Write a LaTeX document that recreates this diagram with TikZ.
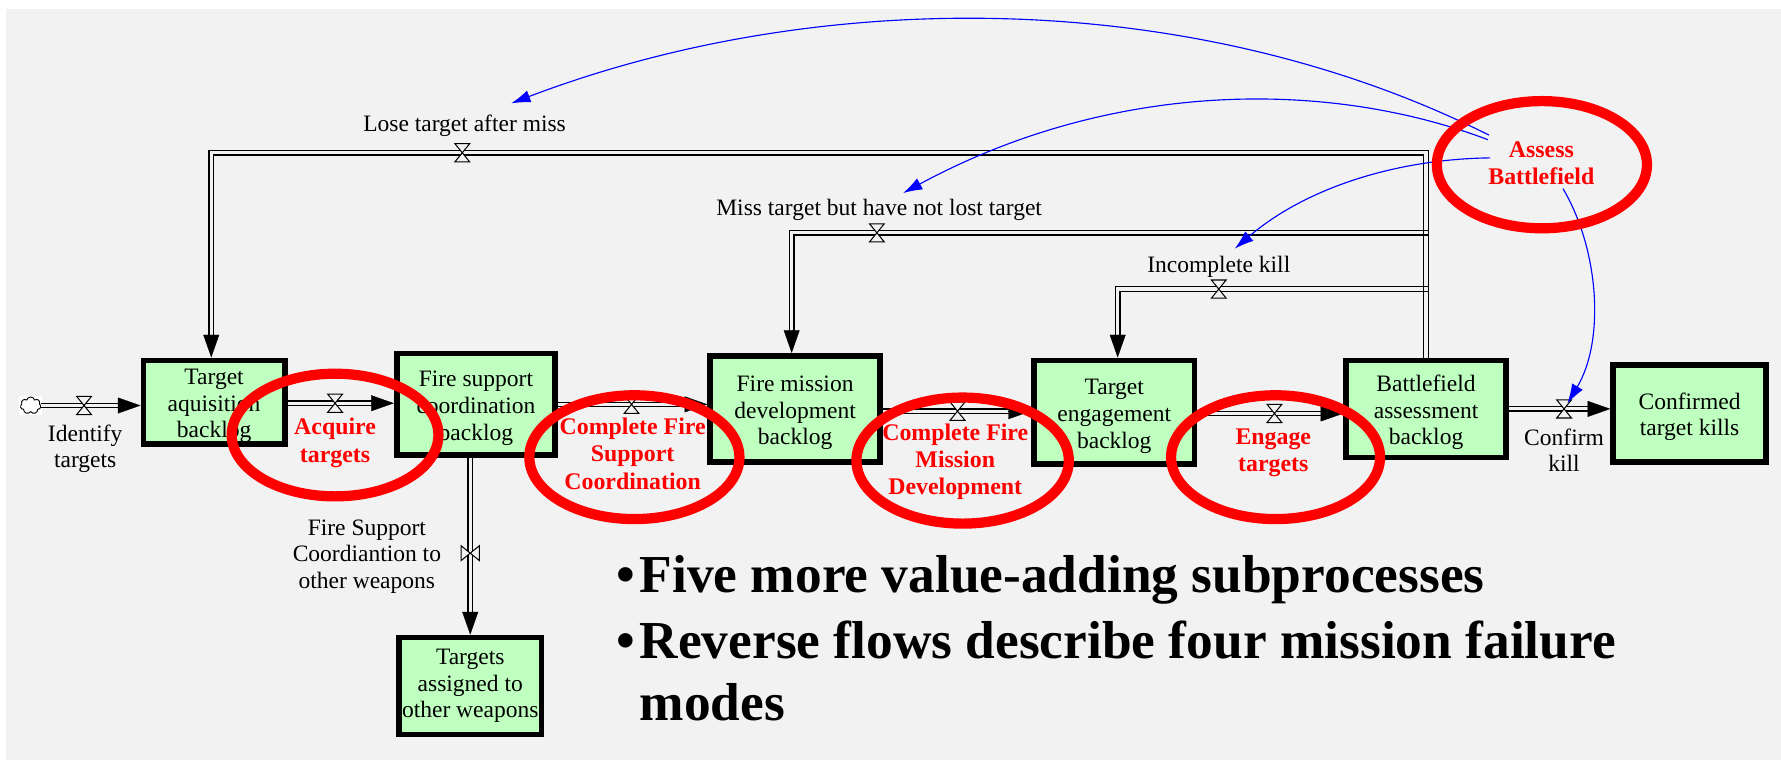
\documentclass[tikz,border=0pt]{standalone}
\usepackage{fontspec}
\setmainfont{Liberation Serif}
\usetikzlibrary{arrows.meta,calc,shapes.geometric,shapes.symbols}
\definecolor{bgc}{HTML}{F2F2F2}
\definecolor{stockc}{HTML}{BFFFBF}
\definecolor{redc}{HTML}{FF0000}
\definecolor{bluec}{HTML}{0000FF}
\newcommand\dn{\rule{0pt}{20.5pt}}
\tikzset{
 stock/.style={draw=black,fill=stockc,line width=5pt,align=center,font=\fontsize{20.7}{23.5}\selectfont,inner sep=0pt},
 lab/.style={align=center,font=\fontsize{20.7}{23.5}\selectfont,inner sep=0pt},
 act/.style={align=center,text=redc,font=\bfseries\fontsize{21}{24}\selectfont,inner sep=0pt},
 ring/.style={ellipse,draw=redc,line width=9pt,inner sep=0pt},
 pipe/.style={draw=black,line width=1.1pt,double=bgc,double distance=2.8pt},
 head/.style={draw=black,line width=.3pt,-{Triangle[length=20pt,width=14pt,fill=black]}},
 infl/.style={draw=bluec,line width=1pt,-{Latex[length=17pt,width=11pt,fill=bluec]}},
 bullet/.style={anchor=base west,inner sep=0pt,font=\bfseries\fontsize{47}{52}\selectfont},
 valvev/.pic={\draw[black,line width=.9pt,fill=bgc] (-6.5,-8)--(6.5,-8)--(-6.5,8)--(6.5,8)--cycle;},
 valveh/.pic={\draw[black,line width=.9pt,fill=bgc] (-8,-6.5)--(-8,6.5)--(8,-6.5)--(8,6.5)--cycle;},
}
\begin{document}
\begin{tikzpicture}[x=1pt,y=-1pt]
\useasboundingbox (0,0) rectangle (1568,669.1);
\fill[white] (0,0) rectangle (1568,669.1);
\fill[bgc] (5,8) rectangle (1568,669.1);
% stocks
\node[stock,minimum width=124.5pt,minimum height=73.5pt] (aq) at (188.5,354) {\dn Target\\aquisition\\backlog};
\node[stock,minimum width=139.5pt,minimum height=89.5pt] (fs) at (419,356) {\dn Fire support\\coordination\\backlog};
\node[stock,minimum width=149.5pt,minimum height=93.5pt] (fm) at (700,360) {\dn Fire mission\\development\\backlog};
\node[stock,minimum width=141.5pt,minimum height=91.5pt] (te) at (981,363) {\dn Target\\engagement\\backlog};
\node[stock,minimum width=140.5pt,minimum height=85.5pt] (ba) at (1255.5,360) {\dn Battlefield\\assessment\\backlog};
\node[stock,minimum width=134.5pt,minimum height=85.5pt] (ck) at (1487.5,364) {\dn Confirmed\\target kills};
\node[stock,minimum width=125.5pt,minimum height=85.5pt] (oth) at (414,604) {Targets\\assigned to\\other weapons};
% source
\fill[white] (17,349) rectangle (37,365);
\node[cloud,cloud puffs=7,cloud puff arc=150,aspect=1.15,draw=black,fill=white,line width=.8pt,minimum width=18pt,minimum height=15pt,inner sep=0pt] (src) at (27,357) {};
% valve positions
\coordinate (v0) at (74,357);
\coordinate (v1) at (295,355);
\coordinate (v2) at (556,356);
\coordinate (v3) at (843,362);
\coordinate (v4) at (1122,364);
\coordinate (v5) at (1377,360);
\coordinate (v6) at (414,487);
\coordinate (v7) at (407,134.5);
\coordinate (v8) at (772,205);
\coordinate (v9) at (1073,254.5);
% junction positions
\coordinate (j) at (1255.5,134.5);
\coordinate (c7) at (186,134.5);
\coordinate (c8) at (697,205);
\coordinate (c9) at (984,254.5);
% forward pipes
\draw[pipe,shorten >=16pt] (src.east|-v0) -- (aq.west|-v0);
\draw[pipe,shorten >=16pt] (aq.east|-v1) -- (fs.west|-v1);
\draw[pipe,shorten >=16pt] (fs.east|-v2) -- (fm.west|-v2);
\draw[pipe,shorten >=16pt] (fm.east|-v3) -- (te.west|-v3);
\draw[pipe,shorten >=16pt] (te.east|-v4) -- (ba.west|-v4);
\draw[pipe,shorten >=16pt] (ba.east|-v5) -- (ck.west|-v5);
\draw[pipe,shorten >=16pt] (fs.south-|v6) -- (oth.north-|v6);
% reverse pipes
\draw[pipe,shorten >=16pt] (ba.north) -- (j) -- (c7) -- (aq.north-|c7);
\draw[pipe,shorten >=16pt] ($(j|-c8)+(2,0)$) -- (c8) -- (fm.north-|c8);
\draw[pipe,shorten >=16pt] ($(j|-c9)+(2,0)$) -- (c9) -- (te.north-|c9);
\draw[black,line width=1.1pt] ($(ba.north)+(-1.95,0)$) -- ($(j)+(-1.95,1.95)$);
% heads
\foreach \a/\b in {v0/aq,v1/fs,v2/fm,v3/te,v4/ba,v5/ck}{
  \draw[head] ($(\b.west|-\a)+(-18,0)$) -- (\b.west|-\a);
}
\draw[head] ($(oth.north)+(0,-18)$) -- (oth.north);
\draw[head] ($(aq.north-|c7)+(0,-18)$) -- (aq.north-|c7);
\draw[head] ($(fm.north-|c8)+(0,-18)$) -- (fm.north-|c8);
\draw[head] ($(te.north-|c9)+(0,-18)$) -- (te.north-|c9);
% valves
\foreach \v in {v0,v1,v2,v3,v4,v5,v7,v8,v9}{ \pic at (\v) {valvev}; }
\pic at (v6) {valveh};
% labels
\node[lab] (l0) at (75,395) {Identify\\targets};
\node[lab] (l5) at (1377,396.5) {Confirm\\kill};
\node[lab] (l6) at (323,490) {Fire Support\\Coordiantion to\\other weapons};
\node[lab] (l7) at (409,111) {Lose target after miss};
\node[lab] (l8) at (774,185) {Miss target but have not lost target};
\node[lab] (l9) at (1073,235) {Incomplete kill};
% influences
\coordinate (s1) at (1311,119);
\coordinate (s2) at (1310,123);
\coordinate (s3) at (1312,139);
\coordinate (s4) at (1376,166);
\coordinate (e1) at (450,91);
\coordinate (e2) at (795,170);
\coordinate (e3) at (1087,219);
\coordinate (e4) at (1380,355);
\draw[infl] (s1) .. controls (1050,-12) and (720,-12) .. (e1);
\draw[infl] (s2) .. controls (1170,70) and (980,70) .. (e2);
\draw[infl] (s3) .. controls (1230,140) and (1150,165) .. (e3);
\draw[infl] (s4) .. controls (1408,220) and (1413,300) .. (e4);
% rings
\node[ring,minimum width=182pt,minimum height=108pt] (r1) at (295,383) {};
\node[ring,minimum width=185pt,minimum height=109pt] (r2) at (558.5,402.5) {};
\node[ring,minimum width=187pt,minimum height=111pt] (r3) at (847.5,405.5) {};
\node[ring,minimum width=184pt,minimum height=109pt] (r4) at (1123,402.5) {};
\node[ring,minimum width=185pt,minimum height=112pt] (r5) at (1357.5,145) {};
% activities
\node[act] (a1) at (295,390) {Acquire\\targets};
\node[act] (a2) at (557,399.5) {Complete Fire\\Support\\Coordination};
\node[act] (a3) at (841,406.5) {Complete Fire\\Mission\\Development};
\node[act] (a4) at (1121,398.5) {Engage\\targets};
\node[act] (a5) at (1357,144) {Assess\\Battlefield};
% bullets
\node[bullet] (b1) at (543,521.5) {•};
\node[bullet] (t1) at (563,521.5) {Five more value-adding subprocesses};
\node[bullet] (b2) at (543,579.5) {•};
\node[bullet] (t2) at (563,579.5) {Reverse flows describe four mission failure};
\node[bullet] (t3) at (563,634.5) {modes};
\end{tikzpicture}
\end{document}
